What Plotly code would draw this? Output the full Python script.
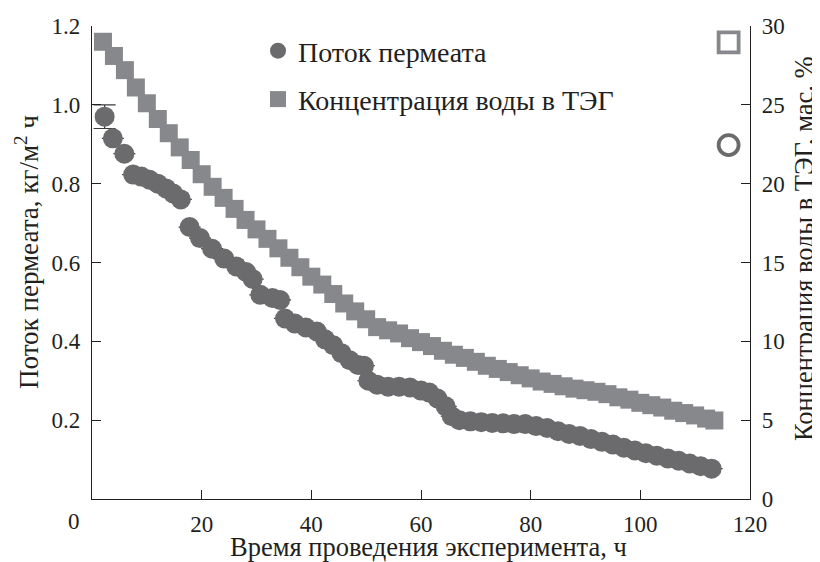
import plotly.graph_objects as go

# ---- data ----
flux_time = [2.3, 3.8, 5.9, 7.5, 9.0, 10.5, 12.0, 13.5, 14.8, 16.2,
             17.8, 19.7, 21.9, 24.1, 26.3, 28.1, 29.3, 30.7, 32.9, 34.3,
             35.2, 37.0, 39.0, 41.0, 42.5, 44.0, 45.5, 47.0, 48.5, 49.6,
             50.4, 52.0, 54.0, 56.0, 58.0, 60.0, 61.5, 63.0, 64.5, 65.6,
             67.0, 69.0, 71.0, 73.0, 75.0, 77.0, 79.0, 81.0, 83.0, 85.0,
             87.0, 89.0, 91.0, 93.0, 95.0, 97.0, 99.0, 101.0, 103.0, 105.0,
             107.0, 109.0, 111.0, 113.0]
flux_value = [0.970, 0.915, 0.876, 0.823, 0.818, 0.810, 0.800, 0.788, 0.775, 0.760,
              0.690, 0.662, 0.635, 0.610, 0.590, 0.576, 0.558, 0.518, 0.510, 0.505,
              0.458, 0.445, 0.435, 0.425, 0.405, 0.390, 0.370, 0.352, 0.340, 0.338,
              0.300, 0.290, 0.285, 0.285, 0.283, 0.275, 0.270, 0.255, 0.235, 0.210,
              0.200, 0.197, 0.195, 0.193, 0.192, 0.190, 0.190, 0.185, 0.180, 0.172,
              0.165, 0.160, 0.152, 0.145, 0.138, 0.130, 0.123, 0.116, 0.110, 0.103,
              0.097, 0.090, 0.083, 0.077]
flux_error = [0.03] + [0] * 63

conc_time = [2, 4, 6, 8, 10, 12, 14, 16, 18, 20,
             22, 24, 26, 28, 30, 32, 34, 36, 38, 40,
             42, 44, 46, 48, 50, 52, 54, 56, 58, 60,
             62, 64, 66, 68, 70, 72, 74, 76, 78, 80,
             82, 84, 86, 88, 90, 92, 94, 96, 98, 100,
             102, 104, 106, 108, 110, 112, 113.5]
conc_value = [29.0, 28.1, 27.2, 26.1, 25.1, 24.1, 23.2, 22.3, 21.5, 20.6,
              19.8, 19.1, 18.4, 17.7, 17.1, 16.5, 15.9, 15.3, 14.7, 14.1,
              13.6, 13.0, 12.4, 11.9, 11.4, 10.9, 10.7, 10.5, 10.2, 9.95,
              9.7, 9.4, 9.15, 8.95, 8.7, 8.45, 8.25, 8.05, 7.85, 7.65,
              7.45, 7.3, 7.15, 7.0, 6.9, 6.8, 6.65, 6.45, 6.3, 6.1,
              5.95, 5.8, 5.6, 5.45, 5.3, 5.1, 4.98]

# axis indicator markers (open symbols at the right edge)
marker_time = [116.1]
marker_conc = [28.96]
marker_flux = [0.898]

x_ticks = [20, 40, 60, 80, 100, 120]
y_ticks = [0.2, 0.4, 0.6, 0.8, 1.0, 1.2]
y2_ticks = [0, 5, 10, 15, 20, 25, 30]

FONT = "Liberation Serif"
TXT = "#231f20"
C_FLUX = "#6b6b6d"
C_CONC = "#87888c"

W, H = 812, 554
L, R, T, B = 84, 70, 18, 63
PW, PH = W - L - R, H - T - B


def px(sx):  # screen x -> paper x (page has an 8px body margin)
    return (sx - 8 - L) / PW


def py(sy):  # screen y -> paper y
    return (H - B - (sy - 8)) / PH


fig = go.Figure()

fig.add_trace(go.Scatter(
    x=flux_time, y=flux_value, mode="markers", name="Поток пермеата",
    marker=dict(symbol="circle", size=20, color=C_FLUX, line=dict(width=0)),
    error_y=dict(type="data", array=flux_error, visible=True, color="#3a3a3a",
                 thickness=1.2, width=11),
    legendgroup="a", yaxis="y"))

fig.add_trace(go.Scatter(
    x=conc_time, y=conc_value, mode="markers", name="Концентрация воды в ТЭГ",
    marker=dict(symbol="square", size=18, color=C_CONC, line=dict(width=0)),
    legendgroup="b", yaxis="y2"))

fig.add_trace(go.Scatter(
    x=marker_time, y=marker_conc, mode="markers", showlegend=False,
    marker=dict(symbol="square-open", size=20, color=C_CONC, line=dict(width=3.8)),
    yaxis="y2"))
fig.add_trace(go.Scatter(
    x=marker_time, y=marker_flux, mode="markers", showlegend=False,
    marker=dict(symbol="circle-open", size=20, color=C_FLUX, line=dict(width=3.8)),
    yaxis="y"))

axis_common = dict(showgrid=False, zeroline=False, showline=True, linecolor="#231f20",
                   linewidth=1.3, ticks="inside", ticklen=9, tickwidth=1.2,
                   tickcolor="#231f20")

fig.update_layout(
    width=W, height=H,
    margin=dict(l=L, r=R, t=T, b=B, autoexpand=False),
    paper_bgcolor="white", plot_bgcolor="white",
    font=dict(family=FONT, color=TXT, size=22),
    xaxis=dict(range=[0, 120], tickvals=x_ticks,
               tickfont=dict(size=23), ticklabelstandoff=4, **axis_common),
    yaxis=dict(range=[0, 1.2], tickvals=y_ticks, tickformat=".1f",
               tickfont=dict(size=23), ticklabelstandoff=6, **axis_common),
    yaxis2=dict(range=[0, 30], tickvals=y2_ticks, overlaying="y", side="right",
                tickfont=dict(size=23), ticklabelstandoff=6, **axis_common),
    showlegend=True,
    legend=dict(x=px(258), y=py(26), xanchor="left", yanchor="top",
                bgcolor="rgba(0,0,0,0)", font=dict(size=28, family=FONT, color=TXT),
                traceorder="grouped", tracegroupgap=9, itemsizing="trace"),
    annotations=[
        dict(text="0", xref="paper", yref="paper", x=px(74), y=py(521),
             showarrow=False, font=dict(size=23), xanchor="center", yanchor="middle"),
        dict(text="Время проведения эксперимента, ч", xref="paper", yref="paper",
             x=px(428), y=py(547), showarrow=False,
             xanchor="center", yanchor="middle", font=dict(size=26.5)),
        dict(text="Поток пермеата, кг/м<sup>2</sup> ч", xref="paper", yref="paper",
             x=px(27), y=py(252), showarrow=False, textangle=-90,
             xanchor="center", yanchor="middle", font=dict(size=27)),
        dict(text="Концентрация воды в ТЭГ, мас. %", xref="paper", yref="paper",
             x=px(804), y=py(249), showarrow=False, textangle=-90,
             xanchor="center", yanchor="middle", font=dict(size=26.5)),
    ],
)

fig.write_html("out.html")
